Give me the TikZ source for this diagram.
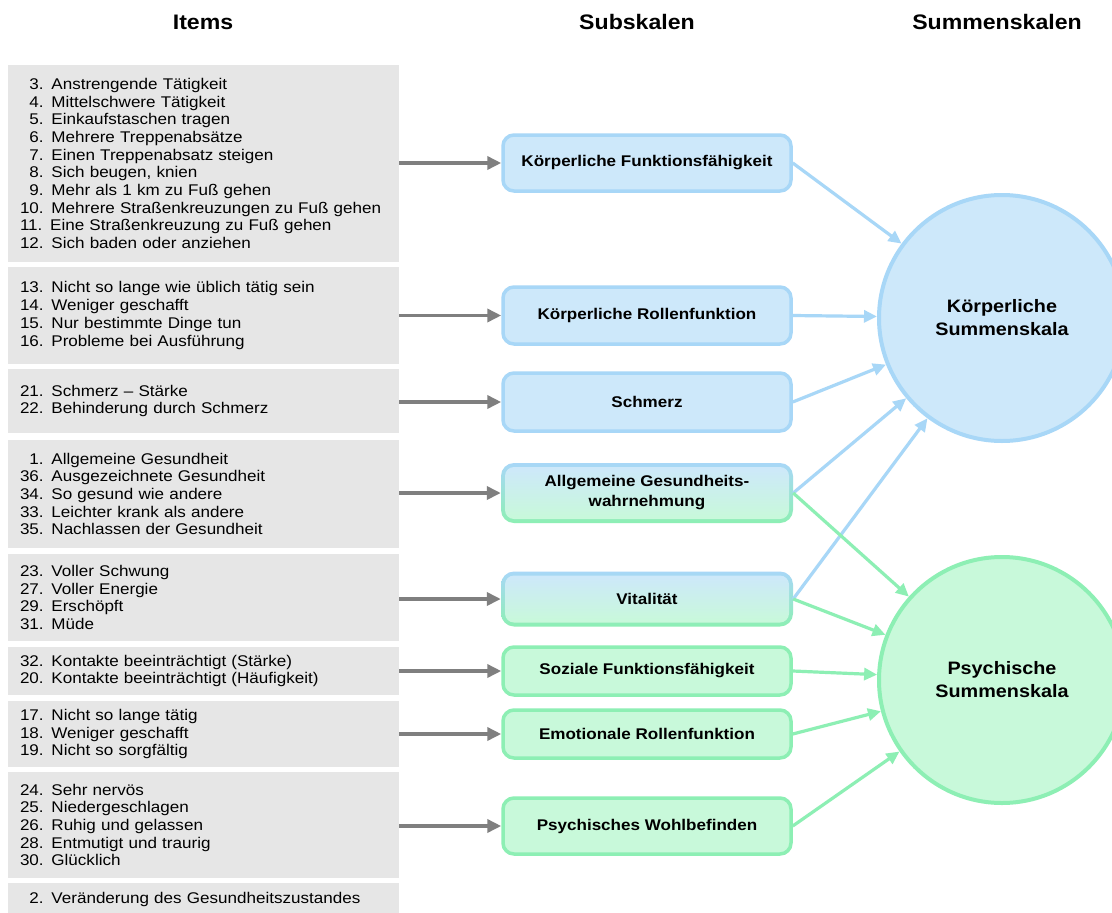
\documentclass[tikz,border=0pt]{standalone}
\usepackage{fontspec}
\setmainfont{Liberation Sans}[FakeStretch=1.1]
\usetikzlibrary{arrows.meta}
\definecolor{itemgray}{HTML}{E6E6E6}
\definecolor{arrowgray}{HTML}{7F7F7F}
\definecolor{bfill}{HTML}{CDE8FA}
\definecolor{bline}{HTML}{A8D7F7}
\definecolor{gfill}{HTML}{C8F9DA}
\definecolor{gline}{HTML}{8DEFB4}
\tikzset{
  header/.style={font=\bfseries\fontsize{21}{24}\selectfont, inner sep=0pt},
  itembox/.style={rectangle, fill=itemgray, minimum width=391pt, text width=367pt, inner xsep=12pt, inner ysep=0pt, align=left, font=\fontsize{15.5}{17.7}\selectfont},
  sub/.style={rectangle, rounded corners=11pt, minimum width=288pt, line width=3.5pt, inner sep=2pt, align=center, font=\bfseries\fontsize{15.5}{20}\selectfont},
  bsub/.style={sub, draw=bline, fill=bfill},
  gsub/.style={sub, draw=gline, fill=gfill},
  mixouter/.style={rectangle, rounded corners=13pt, minimum width=292pt, inner sep=0pt, top color=bline, bottom color=gline, draw=none},
  mixinner/.style={rectangle, rounded corners=9pt, minimum width=284pt, inner sep=0pt, top color=bfill, bottom color=gfill, draw=none, align=center, font=\bfseries\fontsize{15.5}{20}\selectfont},
  summe/.style={circle, line width=4pt, minimum size=246pt, inner sep=0pt, align=center, font=\bfseries\fontsize{18}{23}\selectfont},
  grayarrow/.style={draw=arrowgray, line width=3.6pt, -{Triangle[length=14pt,width=13pt]}},
  barrow/.style={draw=bline, line width=3.2pt, -{Triangle[length=13pt,width=12pt]}},
  garrow/.style={draw=gline, line width=3.2pt, -{Triangle[length=13pt,width=12pt]}}
}
\begin{document}
\begin{tikzpicture}[x=1pt,y=-1pt]
\useasboundingbox (0,0) rectangle (1112,913);
\clip (0,0) rectangle (1112,913);
\fill[white] (0,0) rectangle (1112,913);

% headers
\node[header] (h1) at (203,22) {Items};
\node[header] (h2) at (637,22) {Subskalen};
\node[header] (h3) at (997,22) {Summenskalen};

% item boxes
\node[itembox, minimum height=197pt] (i1) at (203.5,163.5) {\hphantom{0}3. Anstrengende Tätigkeit\\
\hphantom{0}4. Mittelschwere Tätigkeit\\
\hphantom{0}5. Einkaufstaschen tragen\\
\hphantom{0}6. Mehrere Treppenabsätze\\
\hphantom{0}7. Einen Treppenabsatz steigen\\
\hphantom{0}8. Sich beugen, knien\\
\hphantom{0}9. Mehr als 1 km zu Fuß gehen\\
10. Mehrere Straßenkreuzungen zu Fuß gehen\\
11. Eine Straßenkreuzung zu Fuß gehen\\
12. Sich baden oder anziehen};
\node[itembox, minimum height=97pt] (i2) at (203.5,315.5) {13. Nicht so lange wie üblich tätig sein\\
14. Weniger geschafft\\
15. Nur bestimmte Dinge tun\\
16. Probleme bei Ausführung};
\node[itembox, minimum height=64pt] (i3) at (203.5,401) {21. Schmerz – Stärke\\
22. Behinderung durch Schmerz};
\node[itembox, minimum height=108pt] (i4) at (203.5,494) {\hphantom{0}1. Allgemeine Gesundheit\\
36. Ausgezeichnete Gesundheit\\
34. So gesund wie andere\\
33. Leichter krank als andere\\
35. Nachlassen der Gesundheit};
\node[itembox, minimum height=87pt] (i5) at (203.5,597.5) {23. Voller Schwung\\
27. Voller Energie\\
29. Erschöpft\\
31. Müde};
\node[itembox, minimum height=48pt] (i6) at (203.5,671) {32. Kontakte beeinträchtigt (Stärke)\\
20. Kontakte beeinträchtigt (Häufigkeit)};
\node[itembox, minimum height=66pt] (i7) at (203.5,734) {17. Nicht so lange tätig\\
18. Weniger geschafft\\
19. Nicht so sorgfältig};
\node[itembox, minimum height=106pt] (i8) at (203.5,825) {24. Sehr nervös\\
25. Niedergeschlagen\\
26. Ruhig und gelassen\\
28. Entmutigt und traurig\\
30. Glücklich};
\node[itembox, minimum height=32pt] (i9) at (203.5,899) {\hphantom{0}2. Veränderung des Gesundheitszustandes};

% subscale boxes
\node[bsub, minimum height=56pt] (b1) at (647,163) {Körperliche Funktionsfähigkeit};
\node[bsub, minimum height=57pt] (b2) at (647,315.5) {Körperliche Rollenfunktion};
\node[bsub, minimum height=58pt] (b3) at (647,402) {Schmerz};
\node[mixouter, minimum height=60pt] (b4) at (647,493) {};
\node[mixinner, minimum height=52pt] (b4t) at (b4) {Allgemeine Gesundheits-\\wahrnehmung};
\node[mixouter, minimum height=55pt] (b5) at (647,599) {};
\node[mixinner, minimum height=47pt] (b5t) at (b5) {Vitalität};
\node[gsub, minimum height=48pt] (b6) at (647,671) {Soziale Funktionsfähigkeit};
\node[gsub, minimum height=48pt] (b7) at (647,734) {Emotionale Rollenfunktion};
\node[gsub, minimum height=56pt] (b8) at (647,826) {Psychisches Wohlbefinden};

% sum scales
\node[summe, draw=bline, fill=bfill] (ks) at (1002,318) {Körperliche\\Summenskala};
\node[summe, draw=gline, fill=gfill] (ps) at (1002,680) {Psychische\\Summenskala};

% gray arrows
\foreach \n in {1,...,8}{
  \draw[grayarrow] (b\n.west -| i\n.east) -- (b\n.west);
}

% blue arrows
\draw[barrow] (b1.east) -- (ks);
\draw[barrow] (b2.east) -- (ks);
\draw[barrow] (b3.east) -- (ks);
\draw[barrow] (b4.east) -- (ks);
\draw[barrow] (b5.east) -- (ks);
% green arrows
\draw[garrow] (b4.east) -- (ps);
\draw[garrow] (b5.east) -- (ps);
\draw[garrow] (b6.east) -- (ps);
\draw[garrow] (b7.east) -- (ps);
\draw[garrow] (b8.east) -- (ps);
\end{tikzpicture}
\end{document}
